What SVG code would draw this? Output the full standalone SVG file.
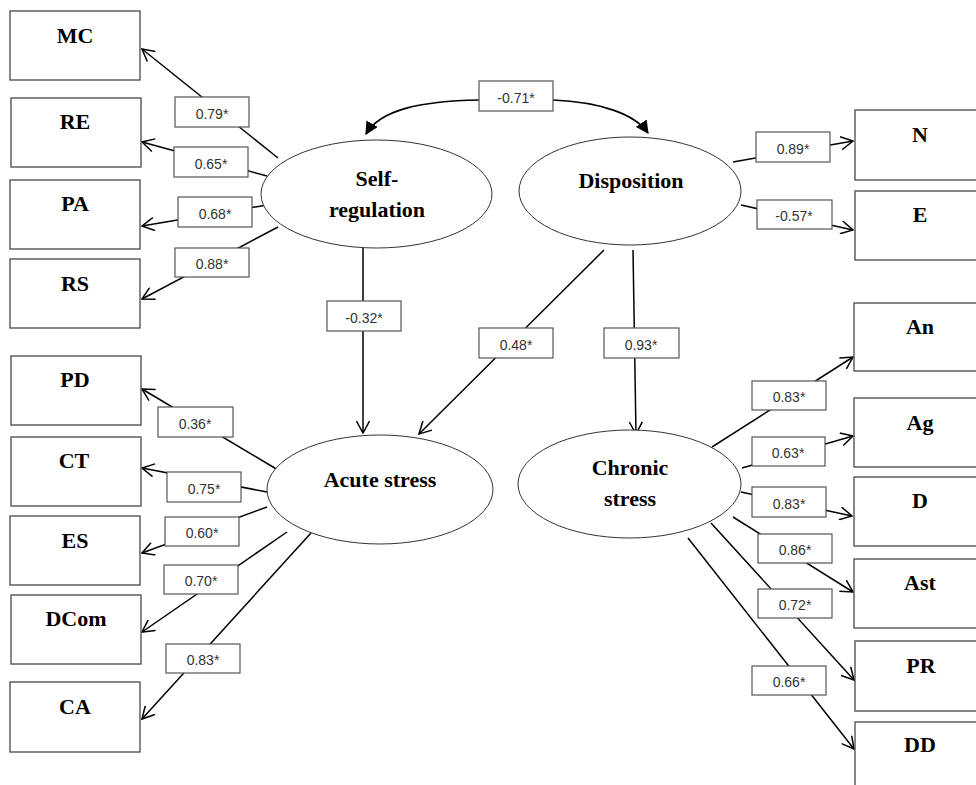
<svg xmlns="http://www.w3.org/2000/svg" width="976" height="785" viewBox="0 0 976 785">
<style>
.box{fill:#fff;stroke:#555;stroke-width:1.4}
.ell{fill:#fff;stroke:#333;stroke-width:1}
.nt{font-family:"Liberation Serif","Times New Roman",serif;font-weight:bold;font-size:22px;fill:#000;text-anchor:middle}
.ln{stroke:#000;stroke-width:1.5;fill:none;marker-end:url(#open)}
.cv{stroke:#000;stroke-width:1.6;fill:none;marker-end:url(#solid)}
.lb{fill:#fff;stroke:#555;stroke-width:1.2}
.lt{font-family:"Liberation Sans",Arial,sans-serif;font-size:14px;fill:#333;text-anchor:middle}
</style>
<defs>
<marker id="open" viewBox="0 0 14 14" refX="13" refY="7" markerWidth="14" markerHeight="14" markerUnits="userSpaceOnUse" orient="auto">
<path d="M1,0.5 L13,7 L1,13.5" fill="none" stroke="#000" stroke-width="1.5"/>
</marker>
<marker id="solid" viewBox="0 0 12 12" refX="11" refY="6" markerWidth="13" markerHeight="13" markerUnits="userSpaceOnUse" orient="auto">
<path d="M0,0 L12,6 L0,12 z" fill="#000"/>
</marker>
</defs>
<rect width="976" height="785" fill="#fff"/>

<g id="connectors">
<line class="ln" x1="278" y1="158" x2="142" y2="49"/>
<line class="ln" x1="267" y1="176" x2="142" y2="142"/>
<line class="ln" x1="267" y1="205" x2="142" y2="226"/>
<line class="ln" x1="278" y1="227" x2="142" y2="299"/>
<line class="ln" x1="278" y1="470" x2="142" y2="389"/>
<line class="ln" x1="267" y1="492" x2="142" y2="468"/>
<line class="ln" x1="267" y1="507" x2="142" y2="553"/>
<line class="ln" x1="287" y1="532" x2="142" y2="632"/>
<line class="ln" x1="311" y1="533" x2="142" y2="719"/>
<line class="ln" x1="363" y1="248" x2="363" y2="433"/>
<line class="ln" x1="604" y1="250" x2="419" y2="434"/>
<line class="ln" x1="633" y1="250" x2="636" y2="434"/>
<path class="cv" d="M479,100 C420,101 380,110 366,134"/>
<path class="cv" d="M553,100 C600,102 635,114 648,133"/>
<line class="ln" x1="733" y1="162" x2="853" y2="141"/>
<line class="ln" x1="741" y1="205" x2="853" y2="230"/>
<line class="ln" x1="712" y1="447" x2="853" y2="357"/>
<line class="ln" x1="742" y1="468" x2="853" y2="436"/>
<line class="ln" x1="741" y1="492" x2="852" y2="516"/>
<line class="ln" x1="733" y1="517" x2="853" y2="592"/>
<line class="ln" x1="711" y1="523" x2="854" y2="680"/>
<line class="ln" x1="688" y1="538" x2="854" y2="749"/>

<rect class="lb" x="175" y="97" width="74" height="30"/><text class="lt" x="212" y="119">0.79*</text>
<rect class="lb" x="174" y="147" width="74" height="30"/><text class="lt" x="211" y="169">0.65*</text>
<rect class="lb" x="178" y="197" width="74" height="30"/><text class="lt" x="215" y="219">0.68*</text>
<rect class="lb" x="175" y="248" width="74" height="29"/><text class="lt" x="212" y="269">0.88*</text>
<rect class="lb" x="158" y="407" width="75" height="30"/><text class="lt" x="195" y="429">0.36*</text>
<rect class="lb" x="167" y="472" width="74" height="30"/><text class="lt" x="204" y="494">0.75*</text>
<rect class="lb" x="165" y="517" width="74" height="29"/><text class="lt" x="202" y="538">0.60*</text>
<rect class="lb" x="164" y="565" width="74" height="29"/><text class="lt" x="201" y="586">0.70*</text>
<rect class="lb" x="166" y="644" width="74" height="29"/><text class="lt" x="203" y="665">0.83*</text>
<rect class="lb" x="327" y="301" width="74" height="30"/><text class="lt" x="364" y="323">-0.32*</text>
<rect class="lb" x="479" y="328" width="74" height="30"/><text class="lt" x="516" y="350">0.48*</text>
<rect class="lb" x="604" y="328" width="75" height="30"/><text class="lt" x="641" y="350">0.93*</text>
<rect class="lb" x="479" y="81" width="74" height="30"/><text class="lt" x="516" y="103">-0.71*</text>
<rect class="lb" x="756" y="132" width="74" height="30"/><text class="lt" x="793" y="154">0.89*</text>
<rect class="lb" x="757" y="200" width="75" height="29"/><text class="lt" x="794" y="221">-0.57*</text>
<rect class="lb" x="752" y="381" width="74" height="29"/><text class="lt" x="789" y="402">0.83*</text>
<rect class="lb" x="752" y="437" width="73" height="29"/><text class="lt" x="788" y="458">0.63*</text>
<rect class="lb" x="752" y="487" width="74" height="30"/><text class="lt" x="789" y="509">0.83*</text>
<rect class="lb" x="758" y="534" width="74" height="29"/><text class="lt" x="795" y="555">0.86*</text>
<rect class="lb" x="758" y="589" width="74" height="29"/><text class="lt" x="795" y="610">0.72*</text>
<rect class="lb" x="752" y="666" width="74" height="29"/><text class="lt" x="789" y="687">0.66*</text>
</g>

<g id="self-regulation"><ellipse class="ell" cx="376.5" cy="194" rx="115.5" ry="54"/><text class="nt" x="377" y="186">Self-</text><text class="nt" x="377" y="217">regulation</text></g>
<g id="disposition"><ellipse class="ell" cx="630" cy="191" rx="111" ry="54"/><text class="nt" x="631" y="188">Disposition</text></g>
<g id="acute-stress"><ellipse class="ell" cx="380" cy="489.5" rx="113" ry="54.5"/><text class="nt" x="380" y="487">Acute stress</text></g>
<g id="chronic-stress"><ellipse class="ell" cx="629.5" cy="484" rx="111.5" ry="54"/><text class="nt" x="630" y="475">Chronic</text><text class="nt" x="630" y="506">stress</text></g>

<g id="MC"><rect class="box" x="10" y="11" width="130" height="69"/><text class="nt" x="75" y="43">MC</text></g>
<g id="RE"><rect class="box" x="11" y="98" width="130" height="69"/><text class="nt" x="75" y="129">RE</text></g>
<g id="PA"><rect class="box" x="10" y="180" width="130" height="69"/><text class="nt" x="75" y="211">PA</text></g>
<g id="RS"><rect class="box" x="10" y="259" width="130" height="69"/><text class="nt" x="75" y="291">RS</text></g>
<g id="PD"><rect class="box" x="11" y="356" width="130" height="69"/><text class="nt" x="75" y="387">PD</text></g>
<g id="CT"><rect class="box" x="11" y="437" width="130" height="69"/><text class="nt" x="74" y="468">CT</text></g>
<g id="ES"><rect class="box" x="10" y="516" width="130" height="69"/><text class="nt" x="75" y="548">ES</text></g>
<g id="DCom"><rect class="box" x="11" y="595" width="130" height="69"/><text class="nt" x="76" y="626">DCom</text></g>
<g id="CA"><rect class="box" x="10" y="682" width="130" height="70"/><text class="nt" x="75" y="714">CA</text></g>

<g id="N"><rect class="box" x="855" y="110" width="132" height="70"/><text class="nt" x="920" y="142">N</text></g>
<g id="E"><rect class="box" x="855" y="191" width="132" height="69"/><text class="nt" x="920" y="222">E</text></g>
<g id="An"><rect class="box" x="854" y="303" width="132" height="68"/><text class="nt" x="920" y="334">An</text></g>
<g id="Ag"><rect class="box" x="854" y="398" width="132" height="69"/><text class="nt" x="920" y="430">Ag</text></g>
<g id="D"><rect class="box" x="854" y="477" width="132" height="69"/><text class="nt" x="920" y="508">D</text></g>
<g id="Ast"><rect class="box" x="854" y="559" width="132" height="69"/><text class="nt" x="920" y="590">Ast</text></g>
<g id="PR"><rect class="box" x="855" y="641" width="132" height="70"/><text class="nt" x="921" y="673">PR</text></g>
<g id="DD"><rect class="box" x="855" y="722" width="132" height="70"/><text class="nt" x="920" y="752">DD</text></g>
</svg>
